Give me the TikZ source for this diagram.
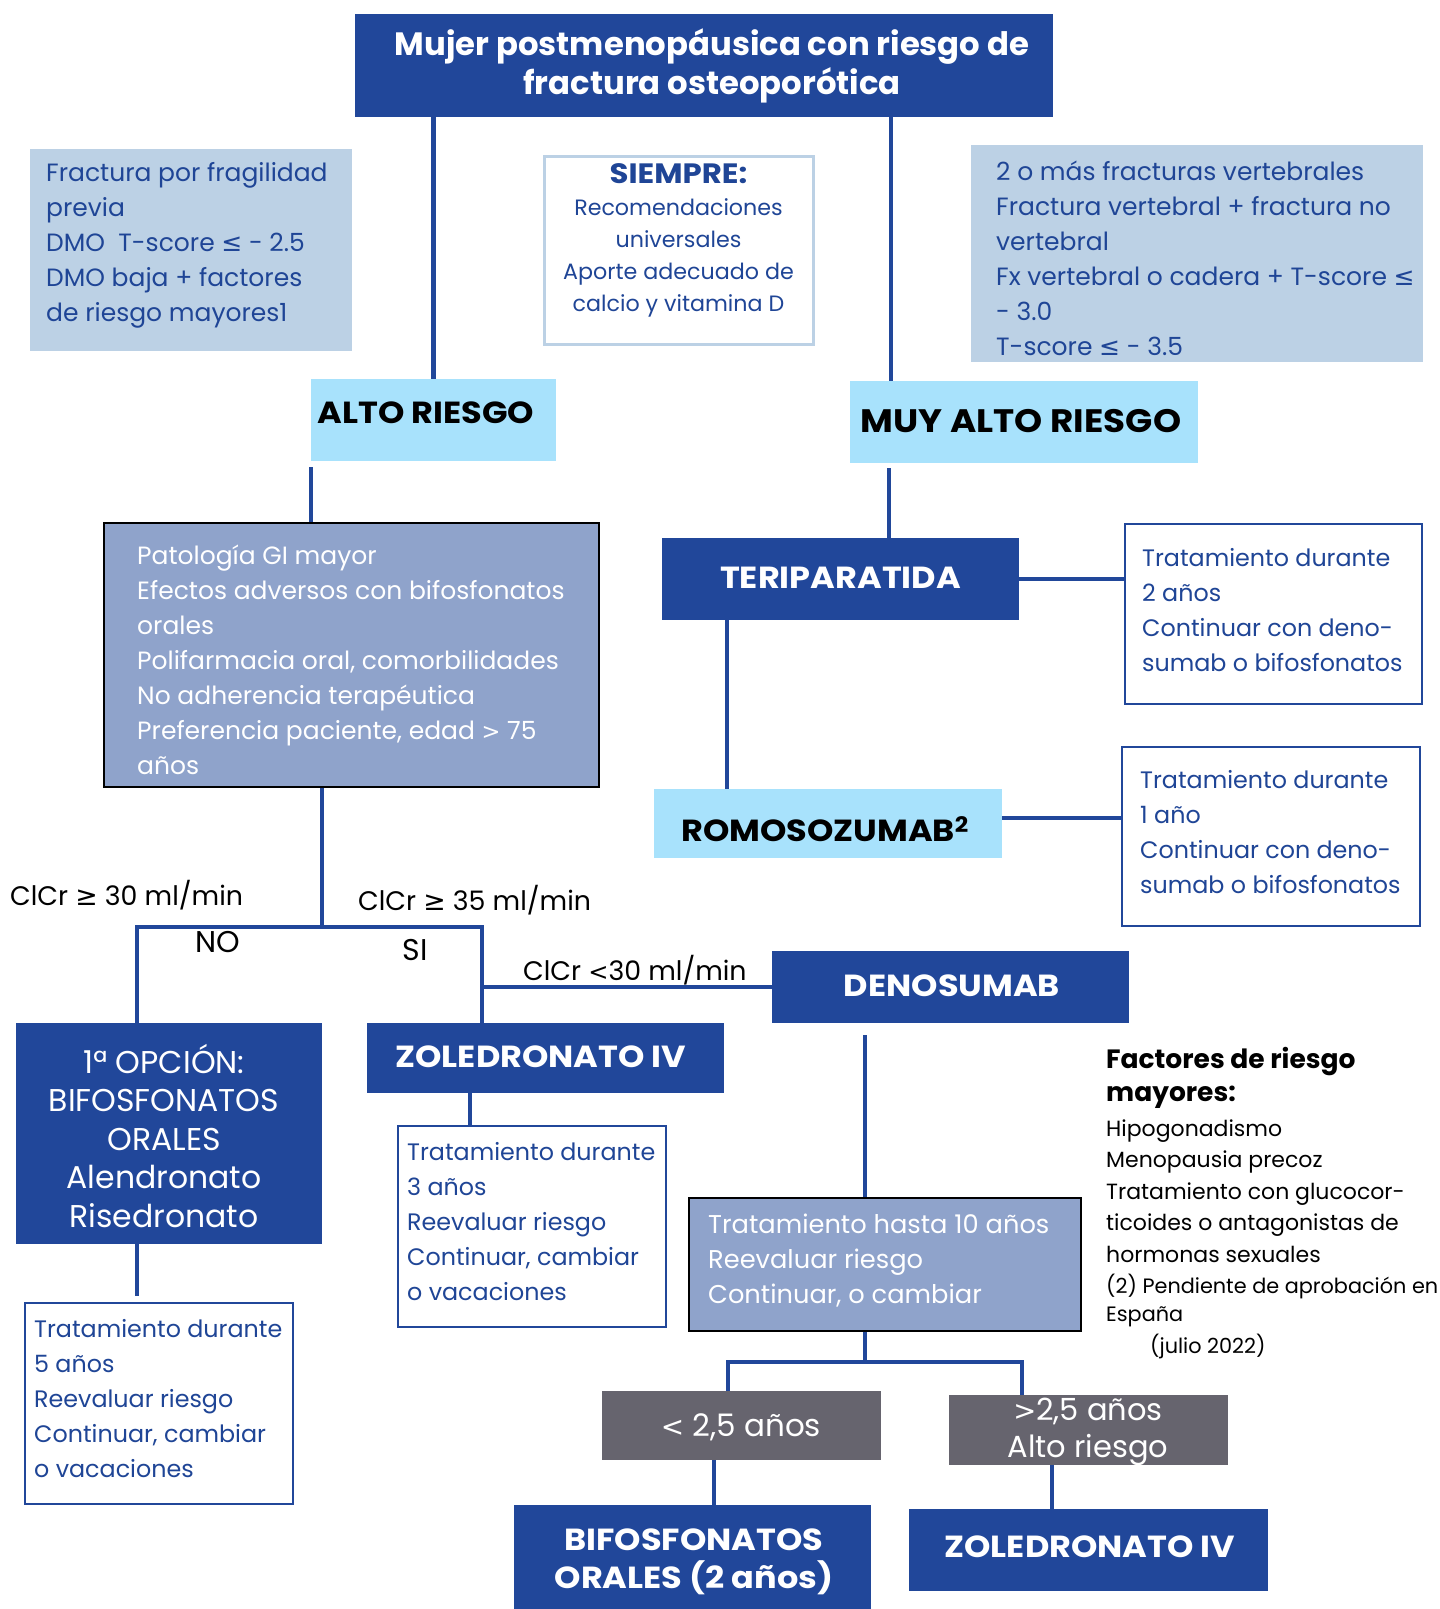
\documentclass[tikz,border=0pt]{standalone}
\usepackage{fontspec}
\setmainfont{Poppins}
\newfontfamily\headfont{Poppins}[FakeStretch=1.1]
\newfontfamily\symfont{DejaVu Sans}
\usetikzlibrary{backgrounds}
\definecolor{navy}{HTML}{21479A}
\definecolor{skyfill}{HTML}{A8E2FC}
\definecolor{steel}{HTML}{BCD1E5}
\definecolor{midblue}{HTML}{8FA3CB}
\definecolor{slate}{HTML}{66646E}
\definecolor{inkblue}{HTML}{1F4596}
\newcommand\fsz[2]{\fontsize{#1}{#2}\selectfont}
\newcommand\lesym{{\symfont ≤}}
\newcommand\gesym{{\symfont ≥}}
\newcommand\ltsym{{\symfont\fsz{0.9em}{1em}<}}
\newcommand\gtsym{{\symfont\fsz{0.9em}{1em}>}}
\begin{document}
\begin{tikzpicture}[x=1pt,y=-1pt,
  box/.style={rectangle, anchor=north west, inner sep=0pt, outer sep=0pt},
  darkbox/.style={box, fill=navy},
  skybox/.style={box, fill=skyfill},
  steelbox/.style={box, fill=steel},
  outlinebox/.style={box, fill=white, draw=navy, line width=2.7pt},
  greybox/.style={box, fill=midblue, draw=black, line width=2.7pt},
  slatebox/.style={box, fill=slate},
  ltext/.style={anchor=west, align=left, inner sep=0pt, font=\fsz{25}{35}},
  treattext/.style={ltext, text=inkblue, font=\fsz{23.8}{35}},
  ctext/.style={anchor=center, align=center, inner sep=0pt},
  heading/.style={ctext, font=\headfont\bfseries\fsz{30.5}{38}},
  conn/.style={draw=navy, line width=4.5pt},
  plainlabel/.style={inner sep=0pt, text=black, font=\fsz{26.8}{30}},
]
\useasboundingbox (0,0) rectangle (1440,1609);

% ---- title ----
\node[darkbox, minimum width=698, minimum height=103] (top) at (355,14) {};
\node[heading, text=white, font=\bfseries\fsz{32.3}{39}] (top-t) at (712,66)
  {Mujer postmenopáusica con riesgo de\\fractura osteoporótica};

% ---- criteria boxes ----
\node[steelbox, minimum width=322, minimum height=202] (leftcrit) at (30,149) {};
\node[ltext, text=inkblue] (leftcrit-t) at (46,245)
  {Fractura por fragilidad\\previa\\DMO\ \ T-score \lesym{} - 2.5\\DMO baja + factores\\de riesgo mayores1};

\node[box, fill=white, draw=steel, line width=3pt, minimum width=269, minimum height=188] (siempre) at (544,156) {};
\node[ctext, text=inkblue, font=\fsz{22.2}{32}] (siempre-t) at (678.5,240)
  {{\headfont\bfseries\fsz{28}{32}SIEMPRE:}\\Recomendaciones\\universales\\Aporte adecuado de\\calcio y vitamina D};

\node[steelbox, minimum width=452, minimum height=217] (rightcrit) at (971,145) {};
\node[ltext, text=inkblue] (rightcrit-t) at (996,258)
  {2 o más fracturas vertebrales\\Fractura vertebral + fractura no\\vertebral\\Fx vertebral o cadera + T-score \lesym\\- 3.0\\T-score \lesym{} - 3.5};

% ---- risk levels ----
\node[skybox, minimum width=245, minimum height=82] (alto) at (311,379) {};
\node[heading] (alto-t) at (426,413) {ALTO RIESGO};
\node[skybox, minimum width=348, minimum height=82] (muy) at (850,381) {};
\node[heading, font=\headfont\bfseries\fsz{32.5}{38}] (muy-t) at (1021,421) {MUY ALTO RIESGO};

% ---- high risk branch ----
\node[greybox, minimum width=495, minimum height=264] (pat) at (104,523) {};
\node[ltext, text=white] (pat-t) at (137,660)
  {Patología GI mayor\\Efectos adversos con bifosfonatos\\orales\\Polifarmacia oral, comorbilidades\\No adherencia terapéutica\\Preferencia paciente, edad \gtsym{} 75\\años};

\node[plainlabel, anchor=west] (c30) at (10,895) {ClCr \gesym{} 30 ml/min};
\node[plainlabel, anchor=west] (c35) at (358,900) {ClCr \gesym{} 35 ml/min};
\node[plainlabel, font=\fsz{30}{32}] (no) at (218,942) {NO};
\node[plainlabel, font=\fsz{30}{32}] (si) at (415,950) {SI};
\node[plainlabel, anchor=west] (c30b) at (523,970) {ClCr \ltsym{}30 ml/min};

\node[darkbox, minimum width=306, minimum height=221] (first) at (16,1023) {};
\node[ctext, text=white, font=\fsz{31.5}{38.5}] (first-t) at (164,1136)
  {1ª OPCIÓN:\\BIFOSFONATOS\\ORALES\\Alendronato\\Risedronato};

\node[outlinebox, minimum width=268, minimum height=201] (tr5) at (25,1303) {};
\node[treattext] (tr5-t) at (34,1399)
  {Tratamiento durante\\5 años\\Reevaluar riesgo\\Continuar, cambiar\\o vacaciones};

\node[darkbox, minimum width=357, minimum height=70] (zolm) at (367,1023) {};
\node[heading, text=white] (zolm-t) at (541,1057) {ZOLEDRONATO IV};

\node[outlinebox, minimum width=268, minimum height=201] (tr3) at (398,1126) {};
\node[treattext] (tr3-t) at (407,1222)
  {Tratamiento durante\\3 años\\Reevaluar riesgo\\Continuar, cambiar\\o vacaciones};

% ---- very high risk branch ----
\node[darkbox, minimum width=357, minimum height=82] (teri) at (662,538) {};
\node[heading, text=white] (teri-t) at (840.5,578) {TERIPARATIDA};

\node[outlinebox, minimum width=297, minimum height=180] (tr2) at (1125,524) {};
\node[treattext] (tr2-t) at (1142,610)
  {Tratamiento durante\\2 años\\Continuar con deno-\\sumab o bifosfonatos};

\node[skybox, minimum width=348, minimum height=69] (romo) at (654,789) {};
\node[heading] (romo-t) at (825,829) {ROMOSOZUMAB\textsuperscript{2}};

\node[outlinebox, minimum width=298, minimum height=179] (tr1) at (1122,747) {};
\node[treattext] (tr1-t) at (1140,832)
  {Tratamiento durante\\1 año\\Continuar con deno-\\sumab o bifosfonatos};

\node[darkbox, minimum width=357, minimum height=72] (deno) at (772,951) {};
\node[heading, text=white] (deno-t) at (952,986) {DENOSUMAB};

\node[greybox, minimum width=392, minimum height=133] (dtr) at (689,1198) {};
\node[ltext, text=white, font=\fsz{25.7}{35}] (dtr-t) at (708,1261)
  {Tratamiento hasta 10 años\\Reevaluar riesgo\\Continuar, o cambiar};

\node[slatebox, minimum width=279, minimum height=69] (lt) at (602,1391) {};
\node[ctext, text=white, font=\fsz{31}{37}] (lt-t) at (741,1427) {\ltsym{} 2,5 años};
\node[slatebox, minimum width=279, minimum height=70] (gt) at (949,1395) {};
\node[ctext, text=white, font=\fsz{30.5}{37}] (gt-t) at (1088,1432) {\gtsym{}2,5 años\\Alto riesgo};

\node[darkbox, minimum width=357, minimum height=104] (bif) at (514,1505) {};
\node[heading, text=white] (bif-t) at (694,1562) {BIFOSFONATOS\\ORALES (2 años)};
\node[darkbox, minimum width=359, minimum height=82] (zolb) at (909,1509) {};
\node[heading, text=white] (zolb-t) at (1090,1547) {ZOLEDRONATO IV};

% ---- footnote ----
\node[anchor=north west, align=left, inner sep=0pt, text=black, font=\fsz{22}{31.5}] (notes) at (1106,1047)
  {{\bfseries\fsz{26.5}{33}Factores de riesgo}\\[1.5pt]
   {\bfseries\fsz{26.5}{33}mayores:}\\[3.5pt]
   Hipogonadismo\\
   Menopausia precoz\\
   Tratamiento con glucocor-\\
   ticoides o antagonistas de\\
   hormonas sexuales\\
   {\fsz{20.8}{28}(2) Pendiente de aprobación en}\\[-3.5pt]
   {\fsz{20.8}{28}España}\\
   {\fsz{20.8}{28}\hspace*{44pt}(julio 2022)}};

% ---- connectors (behind the boxes) ----
\begin{pgfonlayer}{background}
  \fill[white] (0,0) rectangle (1440,1609);
  \coordinate (muyin) at ([xshift=41pt]muy.north west);
  \coordinate (muyout) at ([xshift=39pt]muy.south west);
  \coordinate (teriout) at ([xshift=65pt]teri.south west);
  \coordinate (romoout) at ([yshift=5.5pt]romo.east);
  \coordinate (patout) at ([xshift=218pt]pat.south west);
  \coordinate (brl) at (137,927);
  \coordinate (brr) at (482,927);
  \coordinate (denout) at ([xshift=93pt]deno.south west);
  \coordinate (zolout) at ([xshift=103pt]zolm.south west);
  \coordinate (spl) at (728,1362);
  \coordinate (spr) at (1022,1362);
  \coordinate (ltout) at ([xshift=112pt]lt.south west);
  \coordinate (gtout) at ([xshift=103pt]gt.south west);

  \draw[conn] (top.south -| alto.north) -- (alto.north);
  \draw[conn] (top.south -| muyin) -- (muyin);
  \draw[conn, shorten <=6pt] (alto.south west) -- (alto.south west |- pat.north);
  \draw[conn, shorten <=5pt] (muyout) -- (muyout |- teri.north);
  \draw[conn] (teri.east) -- (teri.east -| tr2.west);
  \draw[conn] (teriout) -- (teriout |- romo.north);
  \draw[conn] (romoout) -- (romoout -| tr1.west);
  \draw[conn] (patout) -- (patout |- brl);
  \draw[conn] (first.north -| brl) -- (brl) -- (brr) -- (brr |- zolm.north);
  \draw[conn] (brr |- deno.west) -- (deno.west);
  \draw[conn, shorten <=12pt] (denout) -- (denout |- dtr.north);
  \draw[conn, shorten >=7pt] (first.south -| brl) -- (tr5.north -| brl);
  \draw[conn] (zolout) -- (zolout |- tr3.north);
  \draw[conn] (denout |- dtr.south) -- (denout |- spl);
  \draw[conn] (lt.north -| spl) -- (spl) -- (spr) -- (gt.north -| spr);
  \draw[conn] (ltout) -- (ltout |- bif.north);
  \draw[conn] (gtout) -- (gtout |- zolb.north);
\end{pgfonlayer}
\end{tikzpicture}
\end{document}
